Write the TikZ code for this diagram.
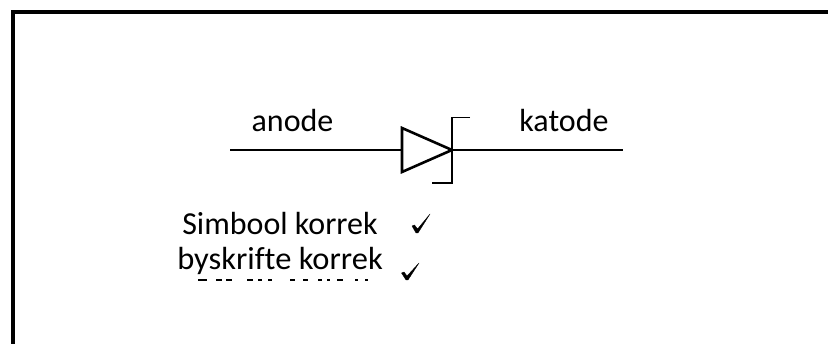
\documentclass[tikz,border=0pt]{standalone}
\usepackage{fontspec}
\setmainfont[Ligatures=NoCommon]{Carlito}
\tikzset{
  lbl/.style={inner sep=0pt,anchor=base,font=\fontsize{32}{32}\selectfont,text=black},
  wire/.style={draw=black,line width=2.6pt},
  frame/.style={draw=black,line width=4pt},
  tickmark/.style={fill=black,draw=black,line width=0.3pt,line join=round},
  scrap/.style={draw=black,line width=1.3pt}
}
\begin{document}
\begin{tikzpicture}[x=1pt,y=-1pt]
\useasboundingbox (0,0) rectangle (828,344);
\coordinate (fa) at (13,344);
\coordinate (fb) at (13,12);
\coordinate (fc) at (828,12);
\draw[frame,line cap=butt,line join=miter] (fa) -- (fb) -- (fc);
\coordinate (w1) at (230,150);
\coordinate (t1) at (402,150);
\coordinate (t2) at (402,128);
\coordinate (t3) at (402,172);
\coordinate (k) at (452,150);
\coordinate (w2) at (623,150);
\coordinate (b1) at (470,117.5);
\coordinate (b2) at (452,117.5);
\coordinate (b3) at (452,183);
\coordinate (b4) at (432,183);
\draw[wire] (w1) -- (t1);
\draw[wire,line join=miter] (t2) -- (k) -- (t3) -- cycle;
\draw[wire] (k) -- (w2);
\draw[wire] (b2) -- (b3) -- (b4);
\draw[draw=black,line width=1.5pt] (b1) -- (b2);
\node[lbl] (anode) at (292.5,132) {anode};
\node[lbl] (katode) at (564,132) {katode};
\node[lbl] (simbool) at (280,235) {Simbool korrek};
\node[lbl,xscale=1.015] (byskrifte) at (280,270) {byskrifte korrek};
\fill[tickmark] (412,226) -- (414.5,225) -- (417.5,229) -- (430,214) -- (418,233) -- (416,233) -- cycle;
\fill[tickmark] (401.5,273) -- (404,272) -- (407,276) -- (419,263) -- (408,280) -- (406,280) -- cycle;
\draw[scrap,line width=1.6pt] (198,280) -- (207,280);
\draw[scrap] (216,280) -- (222,280) (226,280) -- (232,280) (247,280) -- (253,280)
  (258,280) -- (262,280) (268,280) -- (272,280) (290,280) -- (295,280) (303,280) -- (308,280)
  (318,280) -- (322,280) (327,280) -- (330,280) (337,280) -- (343,280) (355,280) -- (358,280)
  (365,280) -- (368,280);
\end{tikzpicture}
\end{document}
